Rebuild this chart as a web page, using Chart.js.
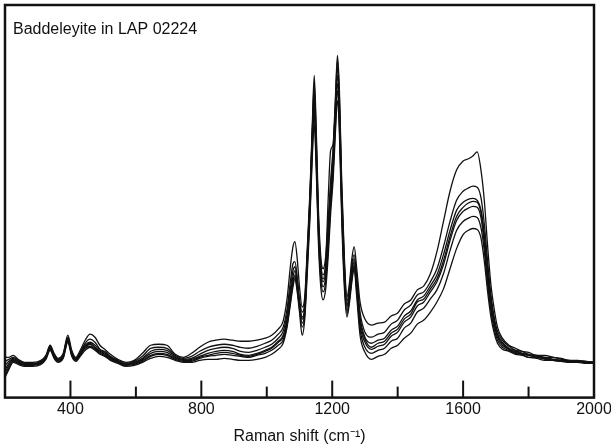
<!DOCTYPE html>
<html>
<head>
  <script src="https://cdn.jsdelivr.net/npm/chart.js@4.4.1/dist/chart.umd.min.js"></script>
  <style>
    html, body { margin: 0; padding: 0; background: #fff; overflow: hidden; }
    #wrap { width: 611px; height: 448px; }
  </style>
</head>
<body>
  <div id="wrap"><canvas id="c"></canvas></div>
  <script>
    // Raman shift (cm-1) sample positions
    const shift = [200, 212, 225, 240, 260, 285, 310, 325, 338, 350,
      362, 378, 392, 404, 416, 430, 445, 460, 475, 490,
      505, 522, 545, 570, 595, 620, 645, 670, 695, 720,
      745, 770, 795, 820, 845, 870, 895, 920, 945, 970,
      995, 1015, 1035, 1050, 1062, 1072, 1080, 1086, 1093, 1100,
      1108, 1116, 1124, 1132, 1139, 1145, 1151, 1158, 1165, 1172,
      1180, 1188, 1195, 1203, 1210, 1216, 1222, 1229, 1237, 1245,
      1253, 1260, 1267, 1275, 1285, 1300, 1320, 1340, 1360, 1380,
      1400, 1420, 1440, 1460, 1480, 1500, 1520, 1540, 1560, 1580,
      1600, 1615, 1630, 1643, 1655, 1665, 1675, 1685, 1695, 1705,
      1720, 1740, 1760, 1780, 1800, 1825, 1850, 1875, 1900, 1925,
      1950, 1975, 2000];

    // intensity (arbitrary units), one array per spot
    const spotA = [40, 40, 42, 38, 35, 35, 37, 42, 52, 44,
      39, 44, 62, 47, 40, 47, 57, 63, 60, 52,
      48, 43, 38, 35, 37, 44, 52, 53, 52, 43,
      40, 44, 50, 55, 57, 58, 57, 56, 56, 57,
      59, 62, 68, 76, 98, 130, 150, 155, 138, 110,
      90, 100, 150, 205, 270, 320, 268, 185, 140, 128,
      140, 178, 215, 250, 300, 340, 305, 215, 140, 100,
      115, 138, 150, 128, 95, 78, 72, 74, 75, 81,
      84, 93, 97, 107, 111, 123, 145, 175, 205, 226,
      235, 237, 240, 244, 225, 195, 150, 112, 88, 70,
      59, 52, 49, 46, 45, 42, 42, 40, 39, 37,
      37, 36, 35];
    const spotB = [36, 38, 40, 37, 34, 34, 36, 41, 51, 43,
      38, 43, 60, 45, 39, 45, 54, 58, 55, 48,
      46, 41, 37, 34, 36, 41, 49, 50, 49, 42,
      39, 41, 46, 50, 52, 53, 52, 50, 49, 51,
      54, 57, 63, 70, 88, 115, 133, 135, 120, 98,
      85, 95, 145, 200, 265, 312, 260, 178, 134, 122,
      132, 170, 208, 242, 295, 335, 298, 208, 134, 96,
      110, 132, 142, 120, 85, 65, 60, 63, 65, 73,
      77, 87, 92, 102, 105, 115, 128, 150, 175, 196,
      205, 208, 210, 209, 198, 172, 135, 102, 80, 66,
      57, 51, 47, 46, 43, 42, 40, 40, 38, 37,
      36, 36, 35];
    const spotC = [32, 36, 39, 36, 34, 33, 35, 40, 50, 42,
      37, 42, 59, 44, 38, 44, 52, 55, 52, 47,
      45, 40, 36, 33, 35, 39, 46, 48, 47, 41,
      38, 39, 43, 47, 49, 50, 49, 46, 45, 47,
      50, 53, 59, 66, 83, 108, 126, 130, 116, 95,
      80, 90, 142, 198, 262, 305, 254, 174, 130, 118,
      135, 200, 245, 252, 290, 328, 292, 200, 130, 92,
      106, 128, 138, 115, 80, 60, 54, 57, 59, 67,
      71, 81, 86, 97, 101, 111, 122, 142, 166, 186,
      194, 197, 198, 196, 186, 162, 128, 97, 76, 63,
      55, 49, 47, 44, 43, 41, 40, 38, 37, 36,
      36, 35, 35];
    const spotD = [28, 34, 38, 35, 33, 33, 35, 40, 50, 42,
      37, 42, 58, 44, 38, 44, 51, 54, 50, 46,
      44, 40, 36, 33, 34, 38, 44, 46, 45, 40,
      37, 38, 41, 44, 46, 47, 46, 43, 42, 44,
      47, 50, 56, 62, 78, 102, 120, 126, 113, 92,
      78, 88, 140, 195, 258, 298, 248, 170, 128, 115,
      125, 160, 200, 235, 285, 320, 285, 195, 125, 90,
      104, 124, 135, 112, 76, 58, 50, 54, 56, 64,
      68, 78, 83, 95, 98, 108, 118, 136, 160, 180,
      189, 193, 195, 194, 183, 158, 124, 94, 74, 62,
      54, 48, 46, 44, 42, 41, 39, 38, 37, 36,
      36, 35, 35];
    const spotE = [25, 32, 37, 35, 33, 33, 35, 40, 49, 41,
      37, 41, 57, 43, 38, 43, 50, 53, 49, 45,
      43, 39, 36, 33, 34, 37, 42, 44, 43, 39,
      37, 37, 40, 42, 44, 45, 44, 42, 41, 43,
      46, 49, 55, 60, 75, 98, 116, 122, 110, 90,
      74, 85, 136, 190, 252, 290, 242, 165, 124, 110,
      120, 155, 195, 230, 280, 312, 278, 190, 120, 86,
      100, 120, 132, 108, 72, 55, 48, 51, 53, 61,
      65, 75, 80, 91, 95, 105, 115, 132, 156, 176,
      185, 188, 190, 189, 178, 152, 118, 90, 72, 60,
      52, 48, 45, 43, 42, 40, 39, 37, 37, 36,
      35, 35, 35];
    const spotF = [22, 30, 36, 34, 32, 32, 34, 39, 48, 40,
      36, 40, 56, 42, 37, 42, 49, 51, 48, 44,
      42, 38, 35, 32, 33, 36, 41, 43, 42, 38,
      36, 36, 39, 41, 42, 43, 42, 41, 40, 42,
      44, 47, 52, 57, 72, 95, 113, 120, 108, 88,
      70, 82, 132, 185, 245, 282, 235, 160, 118, 105,
      115, 150, 190, 225, 272, 305, 270, 185, 116, 83,
      98, 118, 130, 105, 68, 50, 44, 47, 49, 56,
      59, 69, 74, 85, 89, 98, 107, 123, 146, 166,
      175, 178, 180, 179, 168, 145, 112, 86, 68, 57,
      50, 47, 44, 43, 40, 40, 38, 37, 36, 36,
      35, 35, 34];
    const spotG = [20, 28, 35, 33, 31, 31, 33, 38, 47, 39,
      35, 39, 55, 41, 36, 41, 47, 50, 47, 43,
      41, 37, 34, 31, 32, 35, 39, 41, 40, 37,
      35, 35, 37, 38, 38, 39, 38, 37, 37, 38,
      40, 43, 48, 54, 70, 92, 110, 118, 105, 85,
      62, 78, 125, 178, 238, 272, 228, 152, 110, 97,
      108, 142, 182, 218, 265, 295, 262, 178, 110, 80,
      95, 115, 128, 100, 62, 45, 38, 41, 43, 49,
      52, 59, 64, 73, 77, 85, 95, 108, 128, 148,
      162, 166, 168, 167, 158, 135, 105, 80, 64, 54,
      48, 46, 43, 42, 40, 39, 37, 37, 36, 35,
      35, 34, 34];

    const labelTicks = [400, 800, 1200, 1600, 2000];
    const allTicks = [400, 600, 800, 1000, 1200, 1400, 1600, 1800];

    const spots = [spotA, spotB, spotC, spotD, spotE, spotF, spotG];
    const font = '"Liberation Sans", Arial, sans-serif';

    const frame = {
      id: 'frame',
      afterDraw(chart) {
        const { ctx, chartArea: a, scales } = chart;
        ctx.save();
        ctx.strokeStyle = '#111';
        ctx.lineWidth = 2;
        allTicks.forEach(v => {
          const x = scales.x.getPixelForValue(v);
          const len = labelTicks.includes(v) ? 17 : 11;
          ctx.beginPath();
          ctx.moveTo(x, a.bottom);
          ctx.lineTo(x, a.bottom - len);
          ctx.stroke();
        });
        ctx.lineWidth = 2.5;
        ctx.strokeRect(a.left, a.top, a.right - a.left, a.bottom - a.top);
        ctx.fillStyle = '#111';
        ctx.font = '16px ' + font;
        ctx.textBaseline = 'alphabetic';
        ctx.fillText('Baddeleyite in LAP 02224', a.left + 8, a.top + 29);
        ctx.restore();
      }
    };

    new Chart(document.getElementById('c'), {
      type: 'line',
      data: {
        datasets: spots.map(s => ({
          data: s.map((v, i) => ({ x: shift[i], y: v })),
          borderColor: '#111',
          borderWidth: 1.3,
          pointRadius: 0,
          fill: false,
          cubicInterpolationMode: 'monotone'
        }))
      },
      options: {
        responsive: true,
        maintainAspectRatio: false,
        animation: false,
        layout: { padding: { left: 5, right: 0, top: 5, bottom: 1 } },
        plugins: { legend: { display: false }, tooltip: { enabled: false } },
        scales: {
          x: {
            type: 'linear',
            min: 200,
            max: 2000,
            afterBuildTicks: s => { s.ticks = labelTicks.map(v => ({ value: v })); },
            afterFit: s => { s.paddingRight = 17; },
            grid: { display: false, drawTicks: false },
            border: { display: false },
            ticks: {
              color: '#111',
              padding: 2,
              maxRotation: 0,
              autoSkip: false,
              callback: v => String(v),
              font: { family: font, size: 16 }
            },
            title: {
              display: true,
              text: 'Raman shift (cm⁻¹)',
              color: '#111',
              padding: { top: 6, bottom: 1 },
              font: { family: font, size: 16 }
            }
          },
          y: {
            display: false,
            min: 0,
            max: 390
          }
        }
      },
      plugins: [frame]
    });
  </script>
</body>
</html>
